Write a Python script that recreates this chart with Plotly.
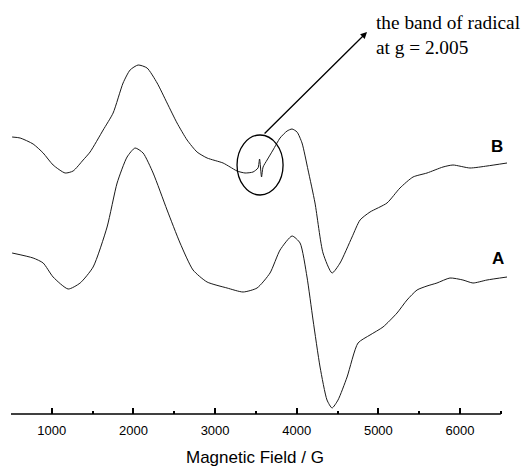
import plotly.graph_objects as go

# Magnetic field (G) and EPR signal (arbitrary units)
field_A = [514, 771, 894, 1016, 1200, 1347, 1506, 1677, 1800, 1922, 2020, 2118, 2241, 2412,
           2571, 2730, 2902, 3147, 3343, 3514, 3673, 3796, 3943, 4041, 4126, 4200, 4286,
           4371, 4433, 4506, 4617, 4751, 4898, 5057, 5229, 5351, 5474, 5596, 5718, 5877,
           6036, 6159, 6331, 6576]
signal_A = [161, 156, 151, 137, 125, 131, 147, 187, 231, 257, 266, 261, 241, 204,
            171, 144, 132, 126, 122, 126, 141, 164, 178, 171, 137, 94, 47,
            14, 6, 14, 37, 71, 79, 87, 101, 114, 124, 128, 131, 136,
            134, 131, 134, 137]

field_B = [514, 612, 771, 894, 1016, 1163, 1261, 1384, 1469, 1629, 1751, 1873, 1959, 2057,
           2167, 2290, 2412, 2534, 2657, 2779, 2902, 3098, 3184, 3269, 3367, 3465, 3526,
           3545, 3569, 3588, 3637, 3710, 3796, 3882, 3943, 4004, 4065, 4139, 4224, 4322,
           4433, 4531, 4678, 4776, 4898, 5106, 5265, 5425, 5596, 5792, 5914, 6122, 6331, 6576]
signal_B = [277, 276, 270, 261, 249, 241, 243, 254, 262, 284, 301, 331, 344, 349,
            346, 331, 311, 291, 274, 262, 256, 251, 247, 243, 241, 242, 246,
            255, 237, 247, 254, 264, 276, 283, 285, 282, 271, 244, 211, 161,
            141, 151, 177, 194, 202, 211, 226, 237, 241, 247, 249, 246, 248, 251]

tick_vals = [1000, 2000, 3000, 4000, 5000, 6000]
tick_text = ["1000", "2000", "3000", "4000", "5000", "6000"]

line_col = "#1a1a1a"
fig = go.Figure()
fig.add_trace(go.Scatter(x=field_A, y=signal_A, mode="lines",
                         line=dict(color=line_col, width=1, shape="spline", smoothing=0.6),
                         hoverinfo="skip", showlegend=False))
fig.add_trace(go.Scatter(x=field_B, y=signal_B, mode="lines",
                         line=dict(color=line_col, width=1, shape="spline", smoothing=0.6),
                         hoverinfo="skip", showlegend=False))

# axis line from 500 to 6500
fig.add_shape(type="line", xref="x", yref="paper", x0=500, x1=6500, y0=0, y1=0,
              line=dict(color="black", width=1.5))
# circle around radical band
fig.add_shape(type="circle", xref="x", yref="y", x0=3269, x1=3833, y0=219, y1=279,
              line=dict(color="black", width=1.3))

# arrow
fig.add_annotation(x=4861, y=382, xref="x", yref="y", ax=3588, ay=279, axref="x", ayref="y",
                   text="", showarrow=True, arrowhead=2, arrowsize=1, arrowwidth=1.3,
                   arrowcolor="black")
fig.add_annotation(x=(366 - 3) / 496, y=0.9607, xref="paper", yref="paper",
                   xanchor="left", yanchor="middle", align="left", showarrow=False,
                   text="the band of radical<br>at g = 2.005",
                   font=dict(family="Liberation Serif", size=19.3, color="black"))
fig.add_annotation(x=6453, y=268, xref="x", yref="y", text="<b>B</b>", showarrow=False,
                   font=dict(family="Liberation Sans", size=17, color="black"))
fig.add_annotation(x=6465, y=156, xref="x", yref="y", text="<b>A</b>", showarrow=False,
                   font=dict(family="Liberation Sans", size=17, color="black"))
fig.add_annotation(x=(247 - 3) / 496, y=-43 / 394, xref="paper", yref="paper",
                   text="Magnetic Field / G", showarrow=False, yanchor="middle",
                   font=dict(family="Liberation Sans", size=17, color="black"))

fig.update_layout(
    width=521, height=458,
    margin=dict(l=3, r=22, t=12, b=52, autoexpand=False),
    paper_bgcolor="white", plot_bgcolor="white",
    font=dict(family="Liberation Sans", color="black"),
    xaxis=dict(range=[500, 6576], tickmode="array", tickvals=tick_vals, ticktext=tick_text,
               ticks="inside", ticklen=6, tickwidth=1.5, tickcolor="black",
               ticklabelstandoff=7, automargin=False,
               showline=False, showgrid=False, zeroline=False,
               tickfont=dict(family="Liberation Sans", size=13, color="black"),
               minor=dict(ticks="inside", ticklen=3, tickwidth=1.5, tickcolor="black",
                          tickmode="linear", tick0=500, dtick=500, showgrid=False)),
    yaxis=dict(range=[0, 394], visible=False, showgrid=False, zeroline=False),
)

fig.write_html("out.html")
